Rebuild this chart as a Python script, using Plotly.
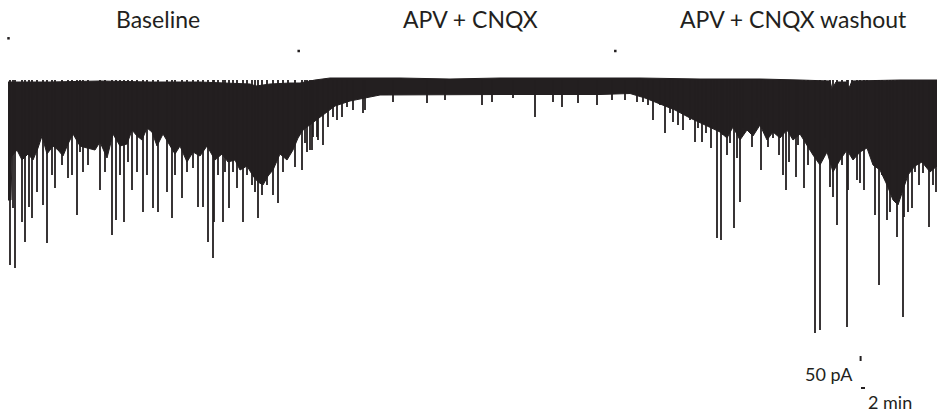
import plotly.graph_objects as go

# ---- data (time in min, current in pA relative to holding baseline) ----
top_t = [4, 25, 50, 75, 100, 125, 128, 135, 145, 150, 157.5, 165, 200, 225, 250, 275, 300, 320,
         350, 380, 400, 415, 416, 418, 423, 424.5, 426, 450, 468.5]
top_pA = [-20, -20, -10, -20, -20, -40, -60, -40, -30, -30, 0, 20, 20, 10, 20, 20, 20, 20,
          10, 10, 0, -10, -90, -20, -20, -80, -10, 0, 0]

# lower edge of the dense (unresolved) part of the trace
body_t = [4, 5.5, 6, 8.5, 11, 14, 16.5, 19, 21, 23.5, 26.5, 29, 31.5, 34, 36.5, 40, 43.5, 47.5,
          50, 53.5, 56.5, 60, 63.5, 66, 68.5, 71, 73.5, 76, 78.5, 81.5, 85, 87.5, 90, 93.5, 96.5,
          100, 103.5, 107.5, 111, 114, 117.5, 120, 123.5, 126.5, 129, 131.5, 134, 136.5, 140,
          143.5, 146.5, 149, 151.5, 155, 160,
          167.5, 175, 182.5, 190, 200, 250, 300, 315, 322.5, 330, 337.5, 345, 352.5,
          360, 363.5, 366.5, 370, 373.5, 376.5, 380, 383.5, 386.5, 390, 393.5, 396.5, 400,
          403.5, 406.5, 410, 413.5, 416.5, 420, 423.5, 426.5, 430, 433.5, 436.5, 440, 443.5,
          446.5, 449, 451.5, 454, 457.5, 461, 465, 468.5]
body_pA = [-1200, -1200, -760, -700, -800, -740, -800, -680, -560, -740, -660, -700, -760, -640,
           -540, -660, -680, -700, -620, -780, -540, -660, -640, -500, -560, -600, -480, -520,
           -660, -540, -660, -740, -660, -820, -720, -760, -660, -800, -740, -820, -800, -900,
           -860, -960, -1020, -1050, -960, -900, -740, -800, -700, -580, -500, -440, -370,
           -260, -210, -180, -150, -145, -145, -145, -135, -180, -240, -300, -380, -450,
           -520, -580, -470, -600, -500, -560, -450, -600, -520, -580, -500, -600, -540,
           -650, -750, -850, -720, -920, -800, -700, -800, -720, -680, -850, -900, -1050,
           -1200, -1250, -1100, -950, -860, -820, -920, -860]

spike_t = [5.0, 7.5, 6.5, 11.0, 12.5, 14.5, 16.0, 18.5, 21.5, 23.5, 26.0, 27.5, 31.0, 34.0, 36.0,
           38.5, 40.0, 41.5, 44.0, 50.0, 52.5, 56.0, 58.0, 60.0, 62.0, 64.0, 66.0, 68.5, 71.5,
           73.5, 76.5, 79.0,
           83.5, 86.0, 87.5, 91.0, 93.5, 96.5, 99.0, 101.5, 104.0, 106.5, 107.0, 109.0, 111.5,
           112.5, 114.5, 116.5, 118.5, 121.5, 123.5, 126.0, 127.5, 129.0, 131.0, 133.5, 136.5,
           139.0, 141.5, 144.0, 147.5, 151.0, 153.5, 156.0, 158.5,
           152.5, 155.0, 156.5, 159.0, 161.5, 164.0, 166.5, 168.5, 171.0, 173.5, 176.5, 181.5,
           182.5, 196.5, 213.5, 222.5, 241.0, 246.0, 256.5, 267.5, 276.5, 281.0, 289.0, 298.5,
           306.0, 312.5, 318.5,
           321.5, 324.0, 326.5, 330.0, 332.5, 335.0, 336.5, 339.0, 341.5, 345.0, 347.5, 349.0,
           351.0, 353.0, 355.5, 357.0, 358.5, 360.5, 361.5, 363.5, 365.0, 367.0, 368.5, 370.0,
           371.5, 376.0, 378.5, 380.5, 382.5, 384.0, 386.5, 389.5,
           391.5, 393.0, 394.5, 398.0, 399.0, 402.0, 404.0, 407.5, 410.0, 412.5, 415.0, 416.5,
           418.5, 421.0, 423.5, 424.0, 426.0, 428.5, 430.0, 432.0, 433.5, 437.5, 439.5, 441.0,
           443.5, 445.0, 446.5, 448.5, 451.5, 452.0, 454.0, 456.0, 457.5, 459.5, 461.5, 464.5,
           466.5, 468.0]
spike_pA = [-1850, -1880, -1280, -1420, -1620, -1270, -1380, -1120, -1250, -1630, -950, -1080,
            -850, -980, -950, -1350, -720, -920, -850, -1100, -920, -1550, -1400, -950, -1420,
            -820, -1100, -920, -1320, -950, -1280, -1320,
            -1120, -1380, -950, -1180, -920, -880, -1270, -1270, -1620, -1780, -1420, -950,
            -1420, -920, -1280, -920, -1080, -1420, -950, -1050, -1120, -1380, -1150, -1050,
            -1150, -1230, -920, -780, -870, -900, -720, -700, -570,
            -630, -700, -570, -600, -650, -470, -370, -400, -370, -270, -300, -330, -300, -220,
            -230, -200, -250, -220, -180, -370, -220, -270, -230, -250, -200, -200, -220,
            -220, -250, -400, -250, -530, -330, -420, -450, -500, -400, -620, -480, -620, -530,
            -680, -420, -1580, -1600, -550, -750, -630, -1480, -780, -1220, -480, -670, -380,
            -900, -520, -670, -580, -750,
            -950, -1100, -820, -970, -650, -1080, -850, -2530, -2500, -580, -1070, -1170, -1450,
            -850, -2470, -1100, -780, -1000, -1030, -1100, -680, -1350, -2050, -950, -1400,
            -1320, -800, -1570, -2370, -1370, -1320, -1280, -920, -1050, -930, -1470, -1050,
            -1120]

condition_labels = ["Baseline", "APV + CNQX", "APV + CNQX washout"]
condition_centers = [78.75, 235.0, 396.75]     # min
marker_t = [4.25, 149.35, 307.65]               # event tick marks
marker_pA = [417, 290, 290]

scale_bar_pA = 50
scale_bar_min = 2

INK = "#231f20"

fig = go.Figure()

# dense body of the trace
poly_t = top_t + body_t[::-1]
poly_pA = top_pA + body_pA[::-1]
fig.add_trace(go.Scatter(x=poly_t, y=poly_pA, mode="lines", fill="toself",
                         fillcolor=INK, line=dict(color=INK, width=1),
                         hoverinfo="skip", showlegend=False))

# individual inward currents
sx, sy = [], []
for t, a in zip(spike_t, spike_pA):
    sx += [t, t, None]
    sy += [0, a, None]
fig.add_trace(go.Scatter(x=sx, y=sy, mode="lines", line=dict(color=INK, width=1.8),
                         hoverinfo="skip", showlegend=False))

# event ticks
fig.add_trace(go.Scatter(x=marker_t, y=marker_pA, mode="markers",
                         marker=dict(symbol="square", size=2.5, color=INK, line=dict(width=0)),
                         hoverinfo="skip", showlegend=False))

# scale bars
sb_t0 = 430.3
sb_y0 = -2760
fig.add_trace(go.Scatter(x=[sb_t0, sb_t0], y=[sb_y0, sb_y0 - scale_bar_pA], mode="lines",
                         line=dict(color=INK, width=2), hoverinfo="skip", showlegend=False))
fig.add_trace(go.Scatter(x=[430.5, 430.5 + scale_bar_min], y=[-3080, -3080], mode="lines",
                         line=dict(color=INK, width=2), hoverinfo="skip", showlegend=False))

FONT = "Lato"
for lab, c in zip(condition_labels, condition_centers):
    fig.add_annotation(x=c, y=1 - 19 / 415, xref="x", yref="paper", text=lab, showarrow=False,
                       xanchor="center", yanchor="middle",
                       font=dict(family=FONT, size=23, color=INK))

fig.add_annotation(x=414.5, y=-2935, xref="x", yref="y", text=f"{scale_bar_pA} pA",
                   showarrow=False, xanchor="center", yanchor="middle",
                   font=dict(family=FONT, size=18, color=INK))
fig.add_annotation(x=445.0, y=-3220, xref="x", yref="y", text=f"{scale_bar_min} min",
                   showarrow=False, xanchor="center", yanchor="middle",
                   font=dict(family=FONT, size=18, color=INK))

fig.update_layout(
    width=937, height=415,
    margin=dict(l=0, r=0, t=0, b=0),
    paper_bgcolor="white", plot_bgcolor="white",
    xaxis=dict(range=[0, 468.5], visible=False, fixedrange=True),
    yaxis=dict(range=[-3350, 800], visible=False, fixedrange=True),
)

fig.write_html("out.html")
